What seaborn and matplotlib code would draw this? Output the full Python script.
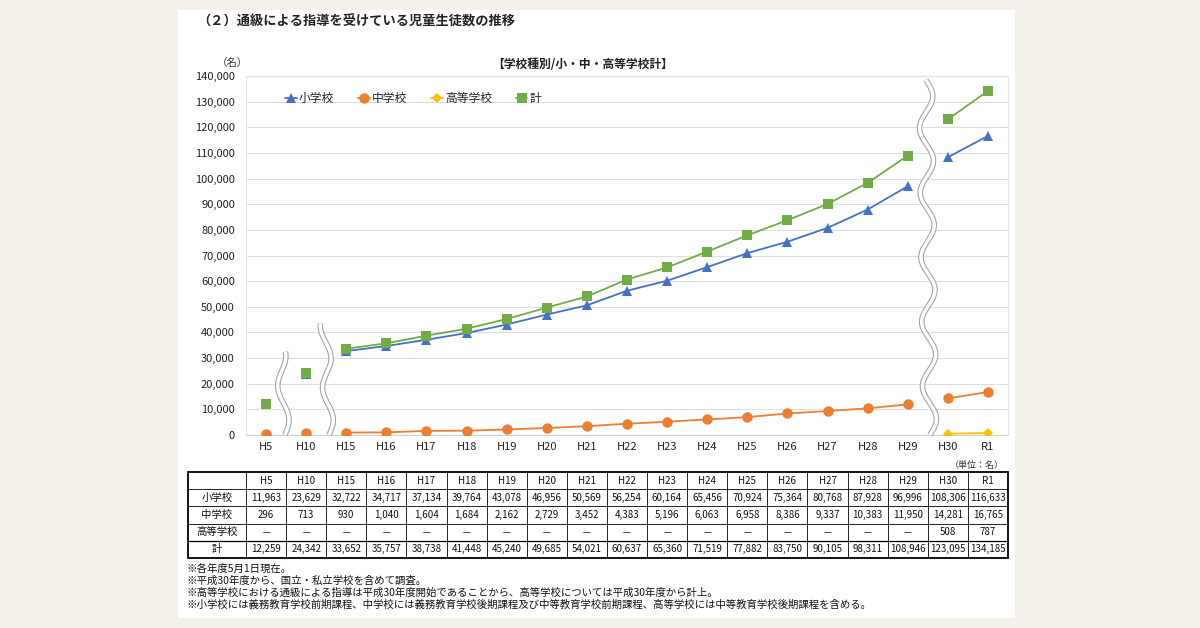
import numpy as np
import pandas as pd
import matplotlib
import matplotlib.pyplot as plt
import seaborn as sns
from matplotlib.patches import Rectangle

matplotlib.use('Agg')

years = ['H5', 'H10', 'H15', 'H16', 'H17', 'H18', 'H19', 'H20', 'H21', 'H22',
         'H23', 'H24', 'H25', 'H26', 'H27', 'H28', 'H29', 'H30', 'R1']
elementary = [11963, 23629, 32722, 34717, 37134, 39764, 43078, 46956, 50569, 56254,
              60164, 65456, 70924, 75364, 80768, 87928, 96996, 108306, 116633]
junior_high = [296, 713, 930, 1040, 1604, 1684, 2162, 2729, 3452, 4383,
               5196, 6063, 6958, 8386, 9337, 10383, 11950, 14281, 16765]
high_school = [np.nan] * 17 + [508, 787]
total = [12259, 24342, 33652, 35757, 38738, 41448, 45240, 49685, 54021, 60637,
         65360, 71519, 77882, 83750, 90105, 98311, 108946, 123095, 134185]
# line segments (breaks between H5/H10, H10/H15, H29/H30)
segment = [0, 1] + [2] * 15 + [3, 3]

series_names = ['小学校', '中学校', '高等学校', '計']
colors = ['#4472C4', '#ED7D31', '#FFC000', '#70AD47']
marker_kinds = ['^', 'o', 'D', 's']
notes = [
    '※各年度5月1日現在。',
    '※平成30年度から、国立・私立学校を含めて調査。',
    '※高等学校における通級による指導は平成30年度開始であることから、高等学校については平成30年度から計上。',
    '※小学校には義務教育学校前期課程、中学校には義務教育学校後期課程及び中等教育学校前期課程、高等学校には中等教育学校後期課程を含める。',
]

sns.set_theme(style='white')
plt.rcParams['font.family'] = ['Noto Sans CJK JP', 'DejaVu Sans']

W, H = 1200, 628
fig = plt.figure(figsize=(12, 6.28), dpi=100, facecolor='#f3f1ea')


def fx(px):
    return px / W


def fy(py):
    return 1 - py / H


# white card behind everything
bg = fig.add_axes([fx(178), fy(618), (1015 - 178) / W, (618 - 10) / H], zorder=-5)
bg.set_facecolor('white')
bg.set_xticks([])
bg.set_yticks([])
for s in bg.spines.values():
    s.set_visible(False)

ax = fig.add_axes([fx(246), fy(435), (1008 - 246) / W, (435 - 76) / H])
ax.set_facecolor('white')

pos = np.arange(len(years))
df = pd.DataFrame({'pos': pos, 'seg': segment, '小学校': elementary,
                   '中学校': junior_high, '高等学校': high_school, '計': total})
long = df.melt(id_vars=['pos', 'seg'], value_vars=series_names,
               var_name='school', value_name='value').dropna()

sns.lineplot(data=long, x='pos', y='value', hue='school', style='school',
             units='seg', estimator=None, hue_order=series_names,
             style_order=series_names, palette=dict(zip(series_names, colors)),
             markers=dict(zip(series_names, marker_kinds)), dashes=False,
             markersize=7.5, markeredgewidth=0, linewidth=1.3, ax=ax, zorder=3)

# size the diamond a bit smaller
for line in ax.lines:
    if line.get_marker() == 'D':
        line.set_markersize(5)

ax.set_xlim(-0.5, 18.5)
ax.set_ylim(0, 140000)
ax.set_yticks(np.arange(0, 140001, 10000))
ax.set_yticklabels([f'{v:,}' for v in range(0, 140001, 10000)], fontsize=8, color='#222222')
ax.set_xticks(pos)
ax.set_xticklabels(years, fontsize=8, color='#222222')
ax.tick_params(axis='y', length=0, pad=8)
ax.tick_params(axis='x', length=0, pad=5)
ax.set_xlabel('')
ax.set_ylabel('')
ax.grid(axis='y', color='#dedede', linewidth=0.8)
ax.set_axisbelow(True)
for side in ['top', 'right', 'left']:
    ax.spines[side].set_color('#e4e4e4')
    ax.spines[side].set_linewidth(0.8)
ax.spines['bottom'].set_color('#d0d0d0')
ax.spines['bottom'].set_linewidth(0.8)


def break_mark(xc, y0, y1, cycles, amp=0.16, tilt=0.0):
    t = np.linspace(0, 1, 300)
    yy = y0 + (y1 - y0) * t
    xx = xc + amp * np.sin(2 * np.pi * cycles * t) + tilt * (t - 0.5)
    ax.plot(xx, yy, color='#a0a0a0', linewidth=4.0, zorder=4, clip_on=False,
            solid_capstyle='butt')
    ax.plot(xx, yy, color='white', linewidth=2.5, zorder=5, clip_on=False,
            solid_capstyle='butt')


break_mark(0.42, 0, 32500, 1.3, amp=0.12, tilt=-0.1)
break_mark(1.52, 0, 43500, 1.8, amp=0.12, tilt=-0.1)
break_mark(16.5, 0, 138500, 5.5, amp=0.17, tilt=-0.1)

handles, labels = ax.get_legend_handles_labels()
ax.legend(handles, labels, ncol=4, loc='upper left', bbox_to_anchor=(0.037, 0.985),
          frameon=False, handlelength=1.0, handletextpad=0.2, columnspacing=2.0,
          prop={'size': 8.5})

fig.text(fx(197), fy(22), '（２）通級による指導を受けている児童生徒数の推移',
         fontsize=9.5, fontweight='bold', color='#222222', va='center')
fig.text(fx(583), fy(65), '【学校種別/小・中・高等学校計】', fontsize=8.5,
         fontweight='bold', color='#222222', ha='center', va='center')
fig.text(fx(232), fy(63), '（名）', fontsize=7.5, color='#333333', ha='center', va='center')

# data table aligned with the chart categories
tab = fig.add_axes([fx(188), fy(558), (1008 - 188) / W, (558 - 472) / H])
left_edge = -0.5 - (246 - 188) / 40.1
tab.set_xlim(left_edge, 18.5)
tab.set_ylim(5, 0)
tab.axis('off')
row_names = ['', '小学校', '中学校', '高等学校', '計']
row_values = [None, elementary, junior_high, high_school, total]
for r in range(5):
    tab.text((left_edge - 0.5) / 2, r + 0.5, row_names[r], ha='center', va='center',
             fontsize=7.5, color='#111111')
    for c in range(len(years)):
        if r == 0:
            s = years[c]
        else:
            v = row_values[r][c]
            s = '－' if pd.isna(v) else f'{int(v):,}'
        tab.text(c, r + 0.5, s, ha='center', va='center', fontsize=7, color='#111111')
for r in range(1, 5):
    tab.plot([left_edge, 18.5], [r, r], color='black', linewidth=0.9 if r == 4 else 0.6)
for c in range(19):
    tab.plot([c - 0.5, c - 0.5], [0, 5], color='black', linewidth=0.6)
tab.add_patch(Rectangle((left_edge, 0), 18.5 - left_edge, 5, fill=False,
                        edgecolor='black', linewidth=1.3, clip_on=False))

fig.text(fx(1004), fy(465), '（単位：名）', fontsize=6.5, color='#333333',
         ha='right', va='center')
for i, note in enumerate(notes):
    fig.text(fx(187), fy(569 + 11.8 * i), note, fontsize=7.5, color='#111111',
             va='center')

fig.savefig('out.png', dpi=100, facecolor=fig.get_facecolor())
